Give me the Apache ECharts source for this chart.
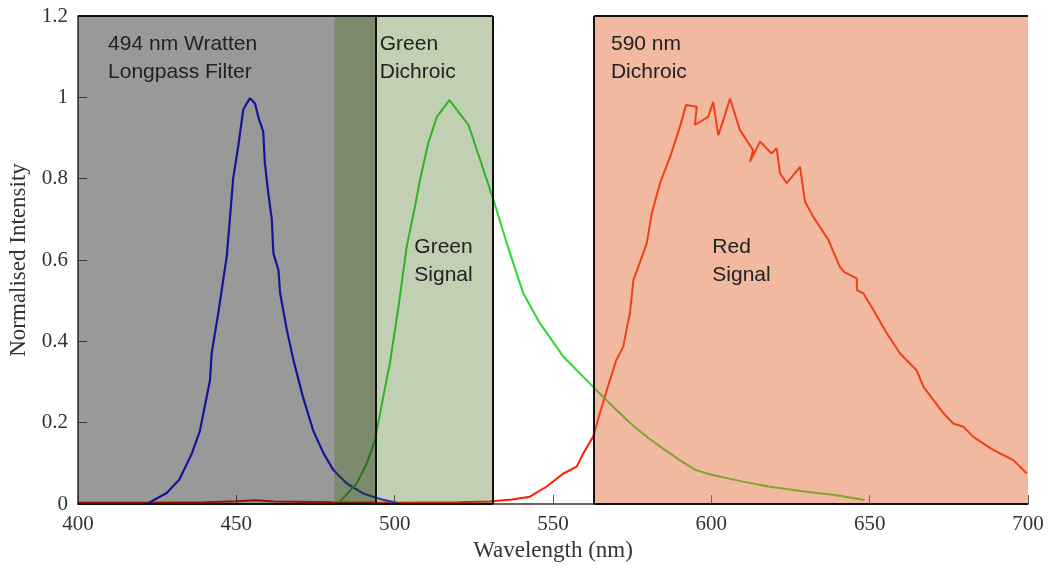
<!DOCTYPE html>
<html lang="en">
<head>
    <meta charset="UTF-8">
    <title>spectra</title>
    <script src="https://cdn.jsdelivr.net/npm/echarts@6/dist/echarts.min.js"></script>
</head>
<body style="margin:0;background:#fff;">
<div id="chart" style="width:1048px;height:569px;"></div>
<script type="text/javascript">
    // wavelength (nm) / normalised intensity, traced in drawing order
    const blueNm = [421.7, 428, 432, 436, 438.5, 441.7, 442.2, 444.3, 447, 448, 449, 450.6, 452.2, 454.3, 455.9, 457, 458.5, 459, 460, 461.2, 461.7, 463.3, 463.8, 465.9, 468, 471, 474.3, 477.5, 480.6, 484.8, 490, 496.4, 500.6];
    const blueVal = [0, 0.027, 0.06, 0.125, 0.18, 0.305, 0.37, 0.47, 0.61, 0.705, 0.8, 0.88, 0.97, 0.998, 0.985, 0.95, 0.915, 0.84, 0.77, 0.7, 0.617, 0.575, 0.52, 0.43, 0.355, 0.264, 0.18, 0.125, 0.084, 0.051, 0.026, 0.01, 0.003];

    const greenNm = [482.7, 488, 491.2, 493.8, 496.4, 498.5, 501.2, 503.8, 506.4, 508, 510.6, 513.3, 517.3, 523.3, 527, 531.2, 535.4, 540.6, 545.9, 553.3, 562.7, 570, 575, 580, 585, 590, 595, 600, 610, 618, 630, 639, 648.3];
    const greenVal = [0.006, 0.05, 0.1, 0.157, 0.264, 0.346, 0.485, 0.633, 0.731, 0.797, 0.887, 0.952, 0.993, 0.932, 0.846, 0.748, 0.641, 0.518, 0.444, 0.362, 0.288, 0.231, 0.195, 0.163, 0.135, 0.108, 0.084, 0.072, 0.055, 0.043, 0.03, 0.022, 0.01];

    const redNm = [400, 420, 440, 450, 456, 462, 480, 500, 520, 530, 537, 542.7, 548, 553.3, 557.5, 559.6, 562.7, 564.8, 567, 568, 570, 572.2, 573.5, 574.3, 575.4, 577, 579.6, 581.2, 583.8, 587, 590.1, 592, 595.4, 594.8, 599, 600.6, 602.2, 603.8, 605.9, 609, 613.2, 612.2, 615.4, 619, 620.6, 621.7, 623.8, 628, 629.6, 632.2, 637, 640.6, 642, 645.9, 646, 648, 651.2, 655.4, 659.6, 664.8, 667, 673.3, 676.4, 679.6, 682.7, 689, 695.4, 699.6];
    const redVal = [0.003, 0.003, 0.004, 0.007, 0.009, 0.006, 0.004, 0.003, 0.004, 0.006, 0.011, 0.018, 0.043, 0.075, 0.092, 0.125, 0.166, 0.223, 0.28, 0.305, 0.354, 0.387, 0.44, 0.469, 0.551, 0.585, 0.641, 0.715, 0.789, 0.854, 0.928, 0.981, 0.977, 0.932, 0.952, 0.989, 0.907, 0.944, 0.997, 0.92, 0.87, 0.842, 0.891, 0.862, 0.875, 0.813, 0.789, 0.829, 0.743, 0.706, 0.649, 0.583, 0.57, 0.555, 0.526, 0.518, 0.477, 0.42, 0.37, 0.329, 0.288, 0.223, 0.198, 0.19, 0.165, 0.133, 0.108, 0.075];

    // filter bands (nm)
    const wrattenBand = [400, 494];
    const greenBand = [481, 531];
    const greenBox = [494, 531];
    const redBand = [563, 700];
    const yTop = 1.2;

    // annotation texts and where they sit (nm, intensity of the text's top-left)
    const noteTexts = ['494 nm Wratten\nLongpass Filter', 'Green\nDichroic', '590 nm\nDichroic', 'Green\nSignal', 'Red\nSignal'];
    const notePos = [[409.5, 1.165], [495.3, 1.165], [568.3, 1.165], [506.2, 0.665], [600.3, 0.665]];

    function zip(xs, ys) {
        return xs.map(function (x, i) { return [x, ys[i]]; });
    }

    const noteStyle = {fontFamily: 'Liberation Sans', fontSize: 21, color: '#222', lineHeight: 28};
    const serif = 'Liberation Serif';
    const black = {color: '#111', width: 2, type: 'solid'};

    let myChart = echarts.init(document.getElementById('chart'));
    myChart.setOption({
        animation: false,
        grid: {left: 78, right: 20, top: 16, bottom: 65, outerBoundsMode: 'none'},
        xAxis: {
            type: 'value', min: 400, max: 700, interval: 50,
            name: 'Wavelength (nm)', nameLocation: 'middle', nameGap: 34,
            nameTextStyle: {fontFamily: serif, fontSize: 23, color: '#333'},
            axisLine: {lineStyle: {color: '#333', width: 1.5}},
            axisTick: {inside: true, length: 9, lineStyle: {color: '#555'}},
            axisLabel: {fontFamily: serif, fontSize: 21, color: '#333', margin: 10},
            splitLine: {show: false}
        },
        yAxis: {
            type: 'value', min: 0, max: 1.2, interval: 0.2,
            name: 'Normalised Intensity', nameLocation: 'middle', nameGap: 46,
            nameTextStyle: {fontFamily: serif, fontSize: 23, color: '#333'},
            axisLine: {show: true, lineStyle: {color: '#333', width: 1.5}},
            axisTick: {show: true, inside: true, length: 9, lineStyle: {color: '#555'}},
            axisLabel: {fontFamily: serif, fontSize: 21, color: '#333', margin: 10},
            splitLine: {show: false}
        },
        series: [
            {
                type: 'line', data: zip(redNm, redVal), showSymbol: false, z: 2,
                lineStyle: {color: '#ff1a00', width: 2}
            },
            {
                type: 'line', data: zip(blueNm, blueVal), showSymbol: false, z: 2,
                lineStyle: {color: '#2424ff', width: 2.2}
            },
            {
                type: 'line', data: zip(greenNm, greenVal), showSymbol: false, z: 2,
                lineStyle: {color: '#2ed62e', width: 2}
            },
            {
                // filter bands drawn over the spectra
                type: 'line', data: [], z: 5,
                markArea: {
                    silent: true,
                    z: 5,
                    label: {show: false},
                    data: [
                        [{xAxis: wrattenBand[0], yAxis: 0, itemStyle: {color: 'rgba(0,0,0,0.4)'}},
                            {xAxis: wrattenBand[1], yAxis: yTop}],
                        [{xAxis: greenBand[0], yAxis: 0, itemStyle: {color: 'rgba(54,100,10,0.31)'}},
                            {xAxis: greenBand[1], yAxis: yTop}],
                        [{xAxis: redBand[0], yAxis: 0, itemStyle: {color: 'rgba(223,106,53,0.47)'}},
                            {xAxis: redBand[1], yAxis: yTop}]
                    ]
                },
                markLine: {
                    silent: true,
                    symbol: 'none',
                    z: 6,
                    label: {show: false},
                    lineStyle: black,
                    data: [
                        [{coord: [wrattenBand[0], yTop]}, {coord: [greenBox[1], yTop]}],
                        [{coord: [redBand[0], yTop]}, {coord: [redBand[1], yTop]}],
                        [{coord: [greenBox[0], 0]}, {coord: [greenBox[0], yTop]}],
                        [{coord: [greenBox[1], 0]}, {coord: [greenBox[1], yTop]}],
                        [{coord: [redBand[0], 0]}, {coord: [redBand[0], yTop]}],
                        [{coord: [wrattenBand[0], 0]}, {coord: [greenBox[1], 0]}],
                        [{coord: [redBand[0], 0]}, {coord: [redBand[1], 0]}]
                    ]
                },
                markPoint: {
                    silent: true,
                    symbol: 'rect', symbolSize: 0, z: 7,
                    label: {show: true, position: 'inside', align: 'left', verticalAlign: 'top', ...noteStyle},
                    data: noteTexts.map(function (t, i) {
                        return {coord: notePos[i], value: t, label: {formatter: t}};
                    })
                }
            }
        ]
    });
</script>
</body>
</html>
